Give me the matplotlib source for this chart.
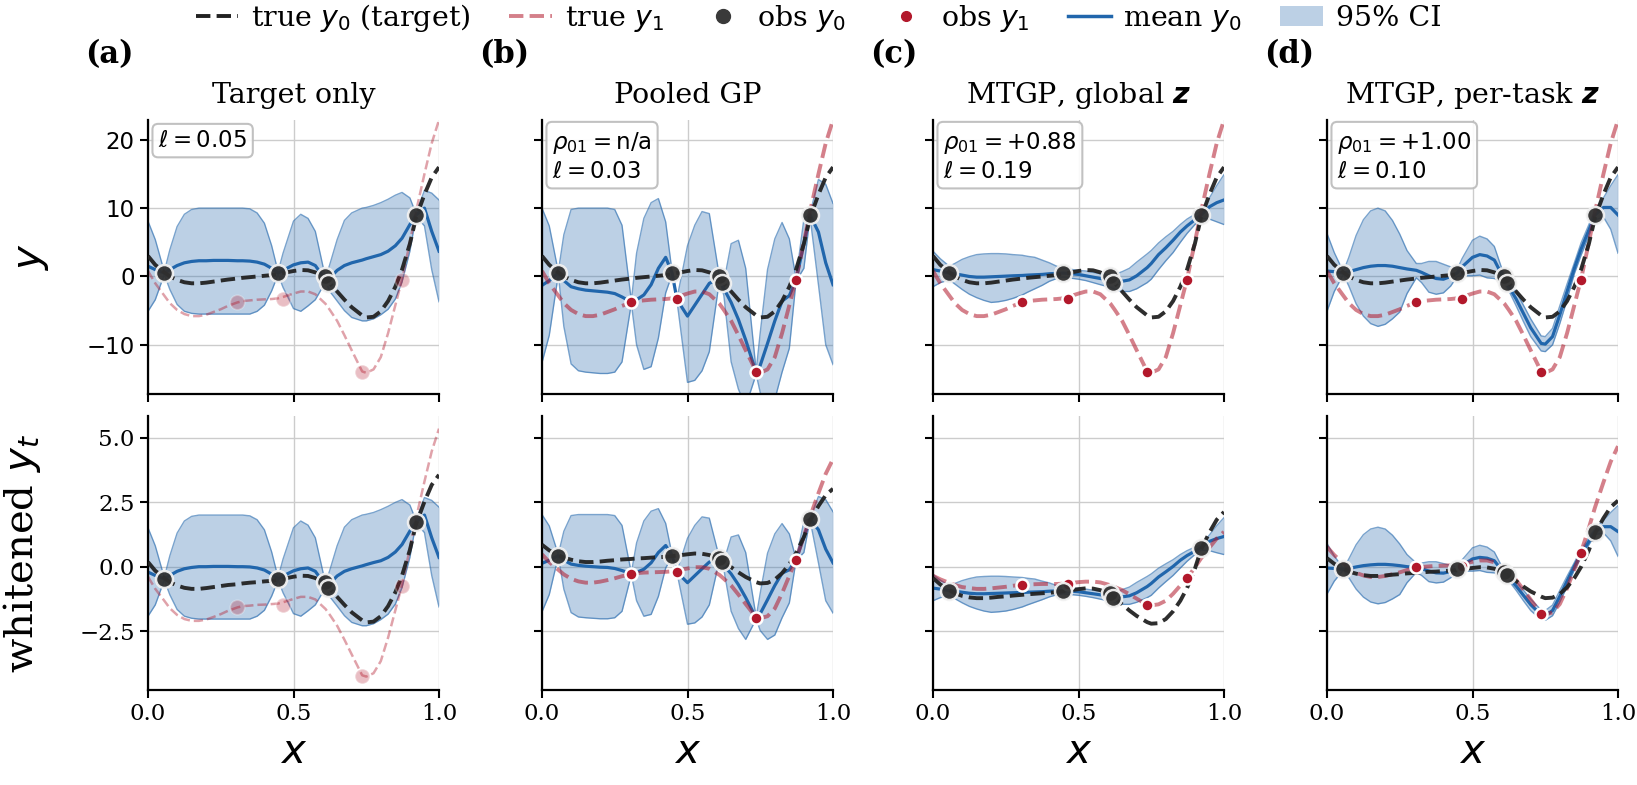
import matplotlib
matplotlib.use("Agg")
import matplotlib.pyplot as plt
from matplotlib.lines import Line2D
from matplotlib.patches import Patch

plt.rcParams.update({
    "font.family": "serif",
    "font.serif": ["DejaVu Serif"],
    "mathtext.fontset": "dejavusans",
    "axes.linewidth": 1.6,
})

BLUE = "#2166ac"
RED = "#b2182b"
DARK = "#222222"

# ---------------- data ----------------
x_grid = [0.0, 0.025, 0.056, 0.075, 0.1, 0.125, 0.15, 0.175, 0.2, 0.225,
          0.25, 0.275, 0.307, 0.325, 0.35, 0.375, 0.4, 0.425, 0.447, 0.464,
          0.5, 0.525, 0.55, 0.575, 0.61, 0.625, 0.65, 0.675, 0.7, 0.736,
          0.75, 0.775, 0.8, 0.825, 0.85, 0.873, 0.9, 0.921, 0.95, 0.975, 1.0]

obs_x0 = [0.056, 0.447, 0.607, 0.618, 0.921]
obs_x1 = [0.307, 0.464, 0.736, 0.873]

# raw scale (top row)
true_y0 = [3.0, 1.7, 0.6, 0.0, -0.5, -0.85, -1.0, -1.0, -0.9, -0.75,
           -0.6, -0.45, -0.3, -0.2, -0.1, 0.0, 0.1, 0.2, 0.35, 0.5,
           0.8, 0.95, 0.9, 0.6, -0.3, -1.0, -2.2, -3.4, -4.5, -5.7,
           -6.0, -5.9, -5.1, -3.6, -1.5, 1.0, 4.8, 8.6, 12.0, 14.5, 16.0]
true_y1 = [0.8, -1.0, -2.8, -3.9, -4.9, -5.5, -5.8, -5.8, -5.6, -5.2,
           -4.8, -4.3, -3.8, -3.6, -3.5, -3.4, -3.35, -3.3, -3.2, -3.0,
           -2.5, -2.2, -2.2, -2.6, -4.0, -4.9, -6.5, -8.6, -10.8, -13.9,
           -14.1, -13.6, -11.8, -8.3, -4.2, -0.4, 5.0, 9.5, 15.0, 19.5, 22.9]
obs_y0 = [0.5, 0.5, 0.0, -0.9, 9.0]
obs_y1 = [-3.75, -3.35, -14.05, -0.5]

mean_target = [1.5, 1.0, 0.5, 1.0, 1.6, 2.0, 2.2, 2.3, 2.3, 2.35,
               2.35, 2.35, 2.3, 2.3, 2.25, 2.1, 1.8, 1.2, 0.5, 0.9,
               1.7, 2.0, 2.1, 1.6, -0.5, -0.2, 0.9, 1.6, 2.0, 2.4,
               2.6, 2.9, 3.2, 3.7, 4.5, 5.6, 7.6, 9.0, 10.0, 6.6, 3.7]
hi_target = [8.1, 5.4, 0.7, 3.9, 7.3, 9.1, 9.8, 10.0, 10.0, 10.0,
             10.0, 10.0, 10.0, 10.0, 9.9, 9.3, 7.8, 4.5, 0.7, 3.4,
             8.1, 9.1, 8.5, 6.6, -0.2, 1.8, 5.4, 8.2, 9.3, 10.0,
             10.1, 10.4, 10.8, 11.3, 11.9, 12.3, 11.5, 9.2, 12.6, 12.2, 11.2]
lo_target = [-5.1, -3.4, 0.3, -1.9, -4.1, -5.1, -5.4, -5.5, -5.5, -5.5,
             -5.5, -5.5, -5.5, -5.5, -5.5, -5.1, -4.2, -2.1, 0.3, -1.6,
             -4.7, -5.1, -4.3, -3.4, -0.8, -2.2, -3.6, -5.0, -6.0, -6.5,
             -6.5, -6.2, -5.6, -4.8, -3.3, -0.8, 3.7, 8.8, 7.4, 1.0, -3.7]

mean_pooled = [-1.3, -0.6, 0.5, -0.6, -1.5, -1.8, -2.0, -2.1, -2.2, -2.3,
               -2.5, -3.0, -3.75, -3.4, -2.7, -1.2, 1.2, 2.8, 0.5, -3.4,
               -5.8, -4.2, -2.6, -1.0, -0.3, -1.8, -3.8, -6.3, -9.3, -14.05,
               -13.0, -9.8, -6.5, -3.6, -2.8, -0.5, 4.8, 9.0, 6.5, 2.0, -1.2]
hi_pooled = [10.0, 7.4, 0.7, 6.1, 9.8, 10.0, 10.0, 10.0, 10.0, 10.0,
             9.8, 7.5, -3.55, 3.4, 8.5, 10.8, 11.4, 8.0, 0.7, -3.2,
             4.5, 7.5, 9.5, 9.2, -0.1, -0.8, 4.8, 5.3, 1.2, -13.8,
             -8.2, 1.0, 5.5, 7.9, 5.5, -0.3, 8.4, 9.2, 14.2, 13.5, 10.7]
lo_pooled = [-12.6, -8.6, 0.3, -7.3, -12.8, -13.8, -14.0, -14.1, -14.2, -14.2,
             -14.0, -12.5, -3.95, -10.0, -13.6, -13.2, -9.0, -2.4, 0.3, -3.6,
             -15.5, -15.2, -13.8, -11.0, -0.5, -2.8, -12.5, -16.5, -19.0, -14.3,
             -17.0, -19.0, -18.0, -14.0, -10.5, -0.7, 1.2, 8.8, -1.2, -10.0, -12.9]

mean_global = [1.0, 0.8, 0.5, 0.4, 0.2, 0.0, -0.1, -0.1, -0.05, 0.0,
               0.05, 0.1, 0.15, 0.2, 0.25, 0.3, 0.4, 0.45, 0.5, 0.45,
               0.3, 0.1, -0.1, -0.3, -0.5, -0.6, -0.7, -0.5, 0.1, 1.3,
               1.9, 3.2, 4.2, 5.3, 6.5, 7.4, 8.3, 9.0, 10.2, 10.8, 11.2]
hi_global = [3.7, 2.6, 1.5, 1.9, 2.5, 2.9, 3.2, 3.3, 3.35, 3.35,
             3.3, 3.2, 3.1, 2.95, 2.8, 2.4, 2.0, 1.5, 1.2, 1.1,
             0.9, 0.8, 0.6, 0.4, 0.2, 0.3, 0.7, 1.2, 2.1, 3.3,
             3.8, 4.9, 5.8, 6.6, 7.6, 8.4, 9.1, 9.5, 11.5, 13.3, 14.9]
lo_global = [-1.5, -0.9, -0.5, -1.1, -1.9, -2.6, -3.1, -3.5, -3.8, -3.7,
             -3.5, -3.2, -2.7, -2.3, -1.8, -1.3, -0.7, -0.3, -0.1, -0.2,
             -0.4, -0.6, -0.9, -1.2, -1.6, -1.9, -2.2, -2.2, -1.8, -0.9,
             -0.4, 1.0, 2.3, 3.5, 5.0, 6.3, 7.6, 8.5, 8.4, 8.0, 7.6]

mean_pertask = [0.8, 0.7, 0.5, 0.7, 1.0, 1.3, 1.5, 1.6, 1.6, 1.5,
                1.3, 1.1, 0.9, 0.6, 0.1, -0.3, -0.4, 0.0, 0.5, 1.4,
                2.8, 3.2, 3.0, 2.4, -0.5, -1.5, -3.3, -5.4, -7.5, -9.8,
                -9.9, -8.8, -5.6, -2.2, 1.2, 4.0, 6.8, 9.0, 10.1, 10.1, 9.0]
hi_pertask = [6.3, 3.5, 0.7, 2.8, 6.0, 8.3, 9.6, 10.0, 9.6, 8.2,
              6.2, 3.8, 1.9, 1.9, 2.2, 2.2, 1.8, 1.4, 1.0, 2.6,
              5.3, 5.9, 5.5, 4.4, 0.0, -0.9, -2.2, -4.2, -6.2, -8.7,
              -8.8, -7.6, -4.3, -1.1, 2.0, 4.9, 7.6, 9.7, 11.5, 13.3, 14.9]
lo_pertask = [-5.1, -2.2, 0.3, -1.4, -4.0, -5.8, -6.9, -7.3, -7.0, -6.2,
              -5.2, -2.5, -0.2, -0.9, -2.3, -2.6, -2.4, -1.4, 0.0, 0.1,
              0.1, 0.2, -0.2, -0.3, -1.0, -2.1, -4.3, -6.6, -8.8, -10.9,
              -11.0, -10.0, -6.9, -3.4, 0.4, 3.1, 6.0, 8.3, 8.7, 6.9, 3.4]

# whitened scale (bottom row)
w_true_y0_target = [0.18, -0.16, -0.44, -0.60, -0.73, -0.82, -0.86, -0.86, -0.83, -0.79,
                    -0.75, -0.71, -0.68, -0.65, -0.62, -0.60, -0.57, -0.55, -0.51, -0.47,
                    -0.39, -0.35, -0.36, -0.44, -0.68, -0.86, -1.17, -1.48, -1.77, -2.08,
                    -2.16, -2.13, -1.92, -1.53, -0.99, -0.34, 0.65, 1.64, 2.52, 3.17, 3.56]
w_true_y1_target = [-0.39, -0.86, -1.32, -1.61, -1.87, -2.03, -2.10, -2.10, -2.05, -1.95,
                    -1.84, -1.71, -1.58, -1.53, -1.51, -1.48, -1.47, -1.45, -1.43, -1.38,
                    -1.25, -1.17, -1.17, -1.27, -1.64, -1.87, -2.29, -2.83, -3.40, -4.21,
                    -4.26, -4.13, -3.66, -2.75, -1.69, -0.70, 0.70, 1.87, 3.30, 4.47, 5.35]
w_mean_target = [-0.21, -0.34, -0.47, -0.34, -0.18, -0.08, -0.03, 0.0, 0.0, 0.01,
                 0.01, 0.01, 0.0, 0.0, -0.01, -0.05, -0.13, -0.29, -0.47, -0.36,
                 -0.16, -0.08, -0.05, -0.18, -0.73, -0.65, -0.36, -0.18, -0.08, 0.03,
                 0.08, 0.16, 0.23, 0.36, 0.57, 0.86, 1.38, 1.74, 2.0, 1.12, 0.36]
w_hi_target = [1.51, 0.81, -0.42, 0.42, 1.30, 1.77, 1.95, 2.0, 2.0, 2.0,
               2.0, 2.0, 2.0, 2.0, 1.97, 1.82, 1.43, 0.57, -0.42, 0.29,
               1.51, 1.77, 1.61, 1.12, -0.65, -0.13, 0.81, 1.53, 1.82, 2.0,
               2.03, 2.10, 2.21, 2.34, 2.49, 2.60, 2.39, 1.79, 2.68, 2.57, 2.31]
w_lo_target = [-1.92, -1.48, -0.52, -1.09, -1.66, -1.92, -2.0, -2.03, -2.03, -2.03,
               -2.03, -2.03, -2.03, -2.03, -2.03, -1.92, -1.69, -1.14, -0.52, -1.01,
               -1.82, -1.92, -1.71, -1.48, -0.81, -1.17, -1.53, -1.90, -2.16, -2.29,
               -2.29, -2.21, -2.05, -1.84, -1.45, -0.81, 0.36, 1.69, 1.32, -0.34, -1.56]
w_obs_y0_target = [-0.47, -0.47, -0.60, -0.83, 1.74]
w_obs_y1_target = [-1.57, -1.47, -4.25, -0.73]

w_true_y0_pooled = [0.85, 0.63, 0.45, 0.35, 0.27, 0.21, 0.18, 0.18, 0.20, 0.23,
                    0.25, 0.28, 0.30, 0.32, 0.33, 0.35, 0.37, 0.38, 0.41, 0.43,
                    0.48, 0.51, 0.50, 0.45, 0.30, 0.18, -0.02, -0.22, -0.40, -0.60,
                    -0.65, -0.63, -0.50, -0.25, 0.10, 0.52, 1.15, 1.78, 2.35, 2.77, 3.02]
w_true_y1_pooled = [0.48, 0.18, -0.12, -0.30, -0.47, -0.57, -0.62, -0.62, -0.58, -0.52,
                    -0.45, -0.37, -0.28, -0.25, -0.23, -0.22, -0.21, -0.20, -0.18, -0.15,
                    -0.07, -0.02, -0.02, -0.08, -0.32, -0.47, -0.73, -1.08, -1.45, -1.97,
                    -2.0, -1.92, -1.62, -1.03, -0.35, 0.28, 1.18, 1.93, 2.85, 3.60, 4.17]
w_mean_pooled = [0.13, 0.25, 0.43, 0.25, 0.10, 0.05, 0.02, 0.0, -0.02, -0.03,
                 -0.07, -0.15, -0.28, -0.22, -0.10, 0.15, 0.55, 0.82, 0.43, -0.22,
                 -0.62, -0.35, -0.08, 0.18, 0.30, 0.05, -0.28, -0.70, -1.20, -1.99,
                 -1.82, -1.28, -0.73, -0.25, -0.12, 0.27, 1.15, 1.85, 1.43, 0.68, 0.15]
w_hi_pooled = [2.02, 1.58, 0.47, 1.37, 1.98, 2.02, 2.02, 2.02, 2.02, 2.02,
               1.98, 1.60, -0.24, 0.92, 1.77, 2.15, 2.25, 1.68, 0.47, -0.18,
               1.10, 1.60, 1.93, 1.88, 0.33, 0.22, 1.15, 1.23, 0.55, -1.95,
               -1.02, 0.52, 1.27, 1.67, 1.27, 0.30, 1.75, 1.88, 2.72, 2.60, 2.13]
w_lo_pooled = [-1.75, -1.08, 0.40, -0.87, -1.78, -1.95, -1.98, -2.0, -2.02, -2.02,
               -1.98, -1.73, -0.31, -1.32, -1.92, -1.85, -1.15, -0.05, 0.40, -0.25,
               -2.23, -2.18, -1.95, -1.48, 0.27, -0.12, -1.73, -2.40, -2.82, -2.03,
               -2.48, -2.82, -2.65, -1.98, -1.40, 0.23, 0.55, 1.82, 0.15, -1.32, -1.80]
w_obs_y0_pooled = [0.43, 0.43, 0.35, 0.20, 1.85]
w_obs_y1_pooled = [-0.28, -0.21, -1.99, 0.27]

w_true_y0_global = [-0.44, -0.69, -0.91, -1.03, -1.13, -1.19, -1.22, -1.22, -1.20, -1.17,
                    -1.15, -1.12, -1.09, -1.07, -1.05, -1.03, -1.01, -0.99, -0.96, -0.93,
                    -0.87, -0.84, -0.85, -0.91, -1.09, -1.22, -1.46, -1.70, -1.91, -2.15,
                    -2.21, -2.19, -2.03, -1.73, -1.32, -0.83, -0.08, 0.66, 1.33, 1.82, 2.12]
w_true_y1_global = [-0.35, -0.49, -0.63, -0.71, -0.79, -0.83, -0.86, -0.86, -0.84, -0.81,
                    -0.78, -0.74, -0.70, -0.69, -0.68, -0.67, -0.67, -0.67, -0.66, -0.64,
                    -0.60, -0.58, -0.58, -0.61, -0.72, -0.79, -0.91, -1.07, -1.24, -1.48,
                    -1.50, -1.46, -1.32, -1.05, -0.73, -0.44, -0.03, 0.32, 0.74, 1.09, 1.35]
w_mean_global = [-0.83, -0.87, -0.93, -0.95, -0.99, -1.03, -1.05, -1.05, -1.04, -1.03,
                 -1.02, -1.01, -1.00, -0.99, -0.98, -0.97, -0.95, -0.94, -0.93, -0.94,
                 -0.97, -1.01, -1.05, -1.09, -1.13, -1.15, -1.17, -1.13, -1.01, -0.77,
                 -0.65, -0.40, -0.20, 0.01, 0.25, 0.43, 0.60, 0.74, 0.98, 1.09, 1.17]
w_hi_global = [-0.30, -0.52, -0.73, -0.65, -0.54, -0.46, -0.40, -0.38, -0.37, -0.37,
               -0.38, -0.40, -0.42, -0.45, -0.48, -0.56, -0.63, -0.73, -0.79, -0.81,
               -0.85, -0.87, -0.91, -0.95, -0.99, -0.97, -0.89, -0.79, -0.61, -0.38,
               -0.28, -0.06, 0.11, 0.27, 0.47, 0.62, 0.76, 0.84, 1.23, 1.59, 1.90]
w_lo_global = [-1.32, -1.20, -1.13, -1.24, -1.40, -1.54, -1.64, -1.72, -1.77, -1.75,
               -1.72, -1.66, -1.56, -1.48, -1.38, -1.28, -1.17, -1.09, -1.05, -1.07,
               -1.11, -1.15, -1.20, -1.26, -1.34, -1.40, -1.46, -1.46, -1.38, -1.20,
               -1.11, -0.83, -0.58, -0.34, -0.05, 0.21, 0.47, 0.64, 0.62, 0.54, 0.47]
w_obs_y0_global = [-0.93, -0.93, -1.03, -1.20, 0.74]
w_obs_y1_global = [-0.70, -0.67, -1.49, -0.45]

w_true_y0_pertask = [0.33, 0.11, -0.08, -0.19, -0.27, -0.33, -0.36, -0.36, -0.34, -0.31,
                     -0.29, -0.26, -0.24, -0.22, -0.20, -0.19, -0.17, -0.15, -0.13, -0.10,
                     -0.05, -0.02, -0.03, -0.08, -0.24, -0.36, -0.56, -0.77, -0.96, -1.16,
                     -1.22, -1.20, -1.06, -0.80, -0.44, -0.01, 0.64, 1.29, 1.88, 2.31, 2.56]
w_true_y1_pertask = [0.77, 0.45, 0.13, -0.06, -0.24, -0.34, -0.40, -0.40, -0.36, -0.29,
                     -0.22, -0.13, -0.04, -0.01, 0.01, 0.03, 0.04, 0.05, 0.06, 0.10,
                     0.19, 0.24, 0.24, 0.17, -0.08, -0.24, -0.52, -0.89, -1.28, -1.82,
                     -1.86, -1.77, -1.45, -0.84, -0.11, 0.56, 1.51, 2.30, 3.27, 4.07, 4.67]
w_mean_pertask = [-0.05, -0.07, -0.10, -0.07, -0.01, 0.04, 0.07, 0.09, 0.09, 0.07,
                  0.04, 0.0, -0.03, -0.08, -0.17, -0.24, -0.25, -0.19, -0.10, 0.05,
                  0.30, 0.36, 0.33, 0.23, -0.27, -0.44, -0.75, -1.11, -1.47, -1.87,
                  -1.89, -1.70, -1.15, -0.56, 0.02, 0.50, 0.98, 1.36, 1.55, 1.55, 1.36]
w_hi_pertask = [0.90, 0.42, -0.07, 0.30, 0.85, 1.24, 1.46, 1.53, 1.46, 1.22,
                0.88, 0.47, 0.14, 0.14, 0.19, 0.19, 0.12, 0.05, -0.01, 0.26,
                0.73, 0.83, 0.76, 0.57, -0.19, -0.34, -0.56, -0.91, -1.25, -1.68,
                -1.70, -1.49, -0.92, -0.37, 0.16, 0.66, 1.12, 1.48, 1.79, 2.10, 2.37]
w_lo_pertask = [-1.06, -0.56, -0.13, -0.43, -0.87, -1.18, -1.37, -1.44, -1.39, -1.25,
                -1.08, -0.62, -0.22, -0.34, -0.58, -0.63, -0.60, -0.43, -0.19, -0.17,
                -0.17, -0.15, -0.22, -0.24, -0.36, -0.55, -0.92, -1.32, -1.70, -2.06,
                -2.08, -1.90, -1.37, -0.77, -0.12, 0.35, 0.85, 1.24, 1.31, 1.00, 0.40]
w_obs_y0_pertask = [-0.10, -0.10, -0.19, -0.34, 1.36]
w_obs_y1_pertask = [-0.03, 0.04, -1.85, 0.54]

panel_tags = ["(a)", "(b)", "(c)", "(d)"]
panel_titles = ["Target only", "Pooled GP", r"MTGP, global $\mathbfit{z}$",
                r"MTGP, per-task $\mathbfit{z}$"]
box_texts = [r"$\ell = 0.05$",
             "$\\rho_{01} = \\mathrm{n/a}$\n$\\ell = 0.03$",
             "$\\rho_{01} = +0.88$\n$\\ell = 0.19$",
             "$\\rho_{01} = +1.00$\n$\\ell = 0.10$"]

top_rows = [
    (mean_target, lo_target, hi_target, true_y0, true_y1, obs_y0, obs_y1),
    (mean_pooled, lo_pooled, hi_pooled, true_y0, true_y1, obs_y0, obs_y1),
    (mean_global, lo_global, hi_global, true_y0, true_y1, obs_y0, obs_y1),
    (mean_pertask, lo_pertask, hi_pertask, true_y0, true_y1, obs_y0, obs_y1),
]
bottom_rows = [
    (w_mean_target, w_lo_target, w_hi_target, w_true_y0_target, w_true_y1_target,
     w_obs_y0_target, w_obs_y1_target),
    (w_mean_pooled, w_lo_pooled, w_hi_pooled, w_true_y0_pooled, w_true_y1_pooled,
     w_obs_y0_pooled, w_obs_y1_pooled),
    (w_mean_global, w_lo_global, w_hi_global, w_true_y0_global, w_true_y1_global,
     w_obs_y0_global, w_obs_y1_global),
    (w_mean_pertask, w_lo_pertask, w_hi_pertask, w_true_y0_pertask, w_true_y1_pertask,
     w_obs_y0_pertask, w_obs_y1_pertask),
]


def draw_panel(ax, series, faded):
    mean, lo, hi, ty0, ty1, o0, o1 = series
    ax.fill_between(x_grid, lo, hi, color=BLUE, alpha=0.3, lw=0, zorder=1)
    ax.plot(x_grid, lo, color=BLUE, lw=1.0, alpha=0.6, zorder=1.5)
    ax.plot(x_grid, hi, color=BLUE, lw=1.0, alpha=0.6, zorder=1.5)
    ax.plot(x_grid, mean, color=BLUE, lw=2.3, zorder=2)
    if faded:
        ax.plot(x_grid, ty1, "--", color=RED, alpha=0.4, lw=1.8, zorder=2.5)
        ax.scatter(obs_x1, o1, s=110, color=RED, alpha=0.28, edgecolors="white",
                   linewidths=1.2, zorder=4)
    else:
        ax.plot(x_grid, ty1, "--", color=RED, alpha=0.55, lw=2.8, zorder=2.5)
        ax.scatter(obs_x1, o1, s=75, color=RED, edgecolors="white",
                   linewidths=1.8, zorder=4)
    ax.plot(x_grid, ty0, "--", color=DARK, lw=2.8, alpha=0.95, zorder=3)
    ax.scatter(obs_x0, o0, s=150, color="#303030", edgecolors="#f2f2f2",
               linewidths=1.8, alpha=0.95, zorder=5)


W, H = 1637, 785
fig = plt.figure(figsize=(W / 100, H / 100), dpi=100)
lefts = [148, 542, 933, 1327]
aw, ah = 291, 274
tops = [120, 416]

axes = [[None] * 4, [None] * 4]
for r in range(2):
    for c in range(4):
        ax = fig.add_axes([lefts[c] / W, 1 - (tops[r] + ah) / H, aw / W, ah / H])
        axes[r][c] = ax
        series = top_rows[c] if r == 0 else bottom_rows[c]
        draw_panel(ax, series, faded=(c == 0))
        ax.set_xlim(0, 1)
        ax.set_xticks([0, 0.5, 1.0])
        ax.grid(True, color="#cccccc", lw=1.0)
        ax.set_axisbelow(True)
        for s in ["top", "right"]:
            ax.spines[s].set_visible(False)
        ax.tick_params(direction="out", length=6, width=1.5, labelsize=16.5)
        if r == 0:
            ax.set_ylim(-17.2, 22.9)
            ax.set_yticks([-10, 0, 10, 20])
            ax.tick_params(axis="y", labelfontfamily="DejaVu Sans")
            ax.tick_params(axis="x", labelbottom=False)
            ax.set_title(panel_titles[c], fontsize=20.5, pad=12)
            ax.text(-0.215, 1.24, panel_tags[c], transform=ax.transAxes,
                    fontsize=22, fontweight="bold", ha="left", va="center")
            ax.text(0.035, 0.965, box_texts[c], transform=ax.transAxes,
                    fontsize=16.5, ha="left", va="top", linespacing=1.3,
                    bbox=dict(boxstyle="round,pad=0.25", facecolor="white",
                              edgecolor="#bbbbbb", lw=1.5, alpha=0.9),
                    zorder=10)
        else:
            ax.set_ylim(-4.78, 5.84)
            ax.set_yticks([-2.5, 0.0, 2.5, 5.0])
            ax.set_xlabel(r"$x$", fontsize=29, labelpad=6)
        if c > 0:
            ax.tick_params(axis="y", labelleft=False)

axes[0][0].set_ylabel(r"$y$", fontsize=29)
axes[1][0].set_ylabel(r"whitened $y_t$", fontsize=29)
axes[0][0].yaxis.set_label_coords(-0.335, 0.5)
axes[1][0].yaxis.set_label_coords(-0.36, 0.5)

handles = [
    Line2D([], [], color=DARK, ls="--", lw=2.8, label=r"true $y_0$ (target)"),
    Line2D([], [], color=RED, alpha=0.55, ls="--", lw=2.8, label=r"true $y_1$"),
    Line2D([], [], marker="o", ls="none", mfc="#3a3a3a", mec="#3a3a3a", ms=10,
           label=r"obs $y_0$"),
    Line2D([], [], marker="o", ls="none", mfc=RED, mec=RED, ms=7, label=r"obs $y_1$"),
    Line2D([], [], color=BLUE, lw=2.5, label=r"mean $y_0$"),
    Patch(facecolor=BLUE, alpha=0.3, label="95% CI"),
]
fig.legend(handles=handles, loc="upper center", bbox_to_anchor=(0.5, 1.03),
           ncol=6, frameon=False, fontsize=20.5, handlelength=1.5,
           handletextpad=0.45, columnspacing=1.35)

fig.savefig("out.png", dpi=100)
